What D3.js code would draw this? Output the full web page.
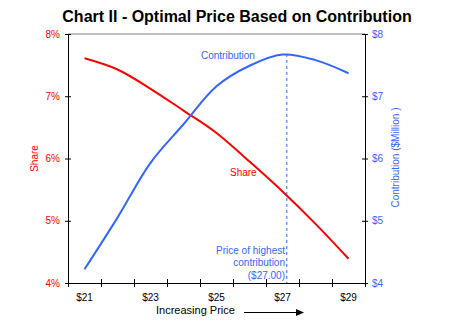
<!DOCTYPE html>
<html>
<head>
<meta charset="utf-8">
<script src="https://cdn.jsdelivr.net/npm/d3@7/dist/d3.min.js"></script>
<style>
  body { margin: 0; background: #fff; }
  text { font-family: "Liberation Sans", Arial, sans-serif; }
</style>
</head>
<body>
<script>
// data
var prices = [21, 22, 23, 24, 25, 26, 27, 28, 29];
var share = [7.61, 7.43, 7.12, 6.77, 6.41, 5.95, 5.47, 4.95, 4.39];          // %
var contribution = [4.22, 5.05, 5.93, 6.55, 7.16, 7.49, 7.67, 7.58, 7.37];   // $ million
var priceLabels = [21, 23, 25, 27, 29];
var shareTicks = [4, 5, 6, 7, 8];
var contribTicks = [4, 5, 6, 7, 8];
var peakPrice = 27.13;
var peakValue = 7.68;

var red = "#ff0000";
var blue = "#3366ff";

var width = 474, height = 324;
// plot box (note: "top" is reserved on window)
var plotLeft = 68, plotRight = 365, plotTop = 34, plotBottom = 283;

var svg = d3.select("body").append("svg")
  .attr("width", width)
  .attr("height", height)

var x = d3.scaleLinear().domain([20.5, 29.5]).range([plotLeft, plotRight]);
var yL = d3.scaleLinear().domain([4, 8]).range([plotBottom, plotTop]);
var yR = d3.scaleLinear().domain([4, 8]).range([plotBottom, plotTop]);

// title
svg.append("text")
  .attr("x", 237)
  .attr("y", 22)
  .attr("text-anchor", "middle")
  .style("font-size", "16px")
  .style("font-weight", "bold")
  .text("Chart II - Optimal Price Based on Contribution");

// gray top border
svg.append("line")
  .attr("x1", plotLeft).attr("x2", plotRight)
  .attr("y1", plotTop).attr("y2", plotTop)
  .attr("stroke", "#808080");

// crossing tick marks helper
function crossTicks(g, dir) {
  g.select(".domain").attr("stroke", "#000");
  g.selectAll(".tick line").attr("stroke", "#000");
  if (dir == "x") g.selectAll(".tick line").attr("y1", -4).attr("y2", 4);
  else g.selectAll(".tick line").attr("x1", -3).attr("x2", 3);
}

// x axis, ticks between categories
var gx = svg.append("g")
  .attr("transform", "translate(0," + plotBottom + ")")
  .call(d3.axisBottom(x).tickValues(d3.range(20.5, 29.6, 1)).tickFormat("").tickSizeOuter(0));
crossTicks(gx, "x");

svg.selectAll(".xlab")
  .data(priceLabels)
  .enter().append("text")
  .attr("x", d => x(d))
  .attr("y", 301)
  .attr("text-anchor", "middle")
  .style("font-size", "10px")
  .text(d => "$" + d);

// left axis
var gl = svg.append("g")
  .attr("transform", "translate(" + plotLeft + ",0)")
  .call(d3.axisLeft(yL).tickValues(shareTicks).tickFormat("").tickSizeOuter(0));
crossTicks(gl, "y");

svg.selectAll(".llab")
  .data(shareTicks)
  .enter().append("text")
  .attr("x", 60)
  .attr("y", d => yL(d) + 3.5)
  .attr("text-anchor", "end")
  .attr("fill", red)
  .style("font-size", "10px")
  .text(d => d + "%");

// right axis
var gr = svg.append("g")
  .attr("transform", "translate(" + plotRight + ",0)")
  .call(d3.axisRight(yR).tickValues(contribTicks).tickFormat("").tickSizeOuter(0));
crossTicks(gr, "y");

svg.selectAll(".rlab")
  .data(contribTicks)
  .enter().append("text")
  .attr("x", 372)
  .attr("y", d => yR(d) + 3.5)
  .attr("fill", blue)
  .style("font-size", "10px")
  .text(d => "$" + d);

// axis titles
svg.append("text")
  .attr("transform", "translate(34," + (plotTop + plotBottom) / 2 + ") rotate(-90)")
  .attr("text-anchor", "middle")
  .attr("dy", "0.35em")
  .attr("fill", red)
  .style("font-size", "10px")
  .text("Share");

svg.append("text")
  .attr("transform", "translate(395,157.5) rotate(-90)")
  .attr("text-anchor", "middle")
  .attr("dy", "0.35em")
  .attr("fill", blue)
  .style("font-size", "10px")
  .text("Contribution ($Million )");

svg.append("text")
  .attr("x", 156)
  .attr("y", 314)
  .style("font-size", "11px")
  .text("Increasing Price");

svg.append("line")
  .attr("x1", 244).attr("x2", 296)
  .attr("y1", 312.5).attr("y2", 312.5)
  .attr("stroke", "#000");
svg.append("path")
  .attr("d", "M296,309L304,312.5L296,316Z")
  .attr("fill", "#000");

// peak marker
svg.append("line")
  .attr("x1", x(peakPrice)).attr("x2", x(peakPrice))
  .attr("y1", yR(peakValue)).attr("y2", plotBottom)
  .attr("stroke", blue)
  .attr("stroke-dasharray", "3,3");

// lines
var lineShare = d3.line()
  .x((d, i) => x(prices[i]))
  .y(d => yL(d))
  .curve(d3.curveCatmullRom);

var lineContrib = d3.line()
  .x((d, i) => x(prices[i]))
  .y(d => yR(d))
  .curve(d3.curveCatmullRom);

svg.append("path")
  .attr("d", lineShare(share))
  .attr("fill", "none")
  .attr("stroke", red)
  .attr("stroke-width", 2);

svg.append("path")
  .attr("d", lineContrib(contribution))
  .attr("fill", "none")
  .attr("stroke", blue)
  .attr("stroke-width", 2);

// labels in the plot
svg.append("text")
  .attr("x", 201)
  .attr("y", 58.5)
  .attr("fill", blue)
  .style("font-size", "10px")
  .text("Contribution");

svg.append("text")
  .attr("x", 230)
  .attr("y", 176)
  .attr("fill", red)
  .style("font-size", "10px")
  .text("Share");

var notes = ["Price of highest", "contribution", "($27.00)"];
svg.selectAll(".note")
  .data(notes)
  .enter().append("text")
  .attr("x", 285)
  .attr("y", (d, i) => 253.5 + i * 12.5)
  .attr("text-anchor", "end")
  .attr("fill", blue)
  .style("font-size", "10px")
  .text(d => d);
</script>
</body>
</html>
